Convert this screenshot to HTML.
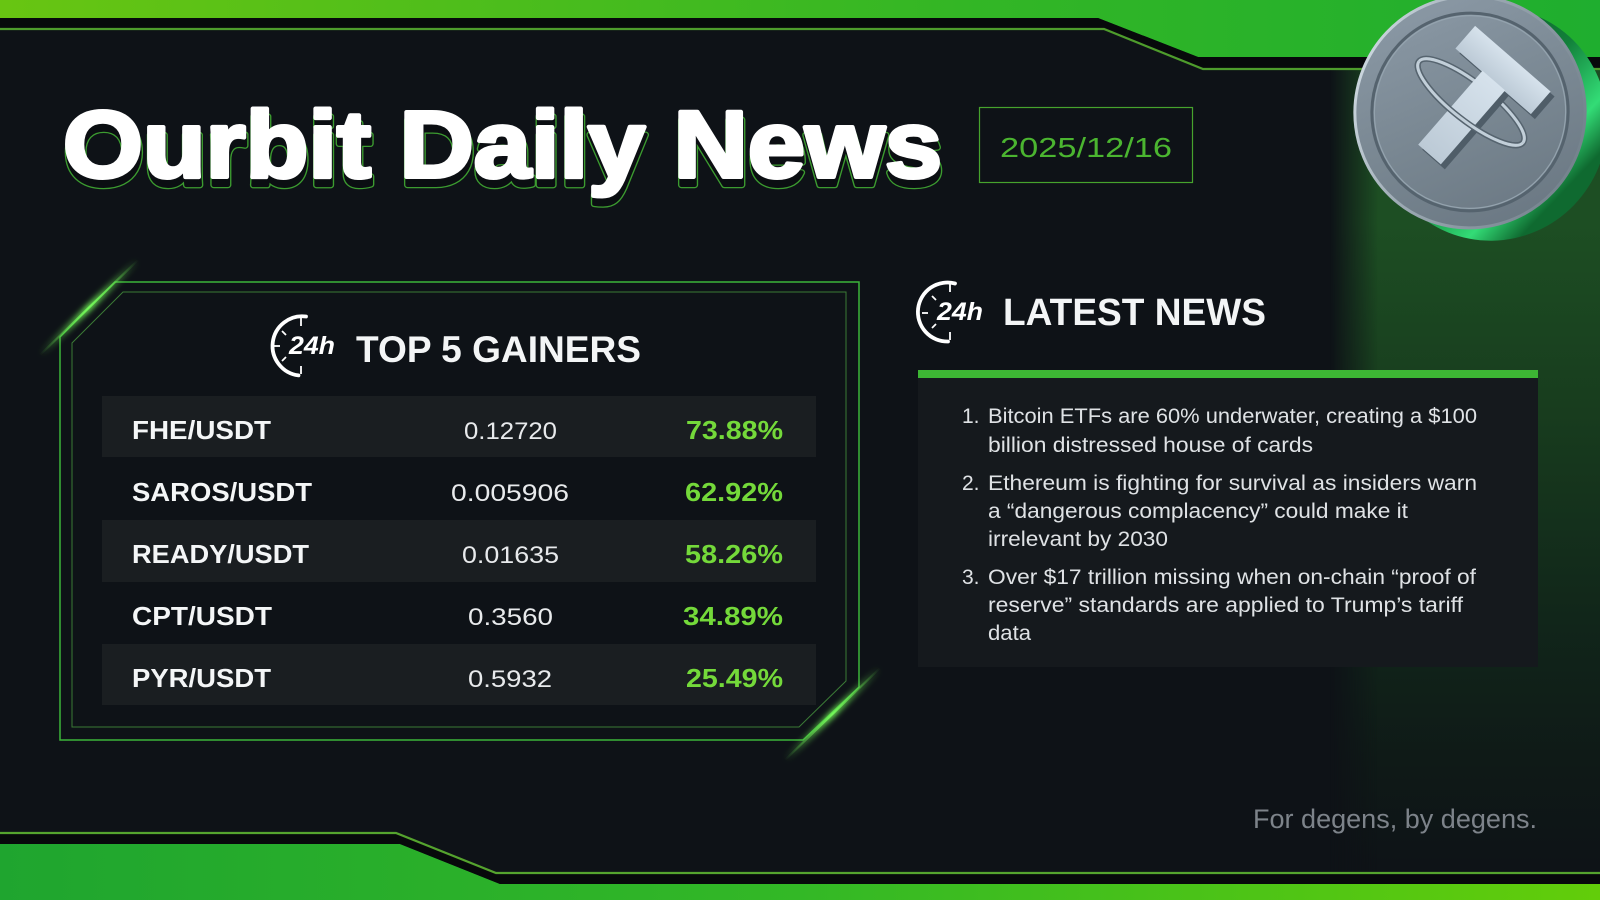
<!DOCTYPE html>
<html><head><meta charset="utf-8"><style>
html,body{margin:0;padding:0;background:#0e1217;}
svg{display:block;}
text{font-family:"Liberation Sans",Arial,sans-serif;}
</style></head><body>
<svg width="1600" height="900" viewBox="0 0 1600 900" xmlns="http://www.w3.org/2000/svg">
<defs>
<linearGradient id="gTop" x1="0" y1="0" x2="1600" y2="0" gradientUnits="userSpaceOnUse">
<stop offset="0" stop-color="#68c512"/><stop offset="0.6" stop-color="#33b625"/><stop offset="1" stop-color="#1fae2f"/></linearGradient>
<linearGradient id="gBot" x1="0" y1="0" x2="1600" y2="0" gradientUnits="userSpaceOnUse">
<stop offset="0" stop-color="#1fa52f"/><stop offset="0.5" stop-color="#33b826"/><stop offset="1" stop-color="#62cd0a"/></linearGradient>
<linearGradient id="gl" x1="0" y1="60" x2="0" y2="880" gradientUnits="userSpaceOnUse">
<stop offset="0" stop-color="#1c4c23"/><stop offset="0.2" stop-color="#1d4e23"/><stop offset="0.42" stop-color="#183d1e"/><stop offset="0.68" stop-color="#11261a"/><stop offset="0.85" stop-color="#0f1a17"/><stop offset="1" stop-color="#0e1217"/></linearGradient>
<linearGradient id="mh" x1="1330" y1="0" x2="1378" y2="0" gradientUnits="userSpaceOnUse">
<stop offset="0" stop-color="#000"/><stop offset="1" stop-color="#fff"/></linearGradient>
<mask id="gm" maskUnits="userSpaceOnUse" x="1280" y="0" width="320" height="900"><rect x="1280" y="0" width="320" height="900" fill="url(#mh)"/></mask>
<filter id="blur3" x="-50%" y="-50%" width="200%" height="200%"><feGaussianBlur stdDeviation="3"/></filter>
<linearGradient id="glow1" x1="40" y1="355" x2="138" y2="260" gradientUnits="userSpaceOnUse">
<stop offset="0" stop-color="#5fd04a" stop-opacity="0"/><stop offset="0.5" stop-color="#74f85a"/><stop offset="1" stop-color="#5fd04a" stop-opacity="0"/></linearGradient>
<linearGradient id="glow2" x1="785" y1="760" x2="880" y2="668" gradientUnits="userSpaceOnUse">
<stop offset="0" stop-color="#5fd04a" stop-opacity="0"/><stop offset="0.5" stop-color="#74f85a"/><stop offset="1" stop-color="#5fd04a" stop-opacity="0"/></linearGradient>
<linearGradient id="coinFace" x1="0" y1="0" x2="1" y2="1">
<stop offset="0" stop-color="#8f9daa"/><stop offset="0.5" stop-color="#7a8893"/><stop offset="1" stop-color="#66737e"/></linearGradient>
<linearGradient id="rim" x1="0" y1="0" x2="1" y2="0">
<stop offset="0" stop-color="#c9d4dc"/><stop offset="0.35" stop-color="#9eabb5"/><stop offset="1" stop-color="#75838e"/></linearGradient>
<linearGradient id="coinEdge" x1="0" y1="0" x2="1" y2="0.4">
<stop offset="0" stop-color="#0a3a1a"/><stop offset="0.6" stop-color="#12803a"/><stop offset="0.85" stop-color="#33dc76"/><stop offset="1" stop-color="#0f6a30"/></linearGradient>
<linearGradient id="tGrad" x1="0" y1="0" x2="0" y2="1">
<stop offset="0" stop-color="#d6e2ec"/><stop offset="1" stop-color="#bccad6"/></linearGradient>
</defs>

<rect width="1600" height="900" fill="#0e1217"/>

<!-- right green glow -->
<rect x="1280" y="60" width="320" height="820" fill="url(#gl)" mask="url(#gm)"/>

<!-- top band -->
<polygon points="0,0 1600,0 1600,57 1198,57 1098,18 0,18" fill="url(#gTop)"/>
<polygon points="0,18 1098,18 1198,57 1600,57 1600,68 1203,68 1104,28 0,28" fill="#07090b"/>
<polyline points="0,29 1104,29 1203,69 1600,69" fill="none" stroke="#4e9c2c" stroke-width="2.2"/>

<!-- bottom band -->
<polygon points="0,844 400,844 500,884 1600,884 1600,900 0,900" fill="url(#gBot)"/>
<polygon points="0,834 396,834 496,874 1600,874 1600,884 500,884 400,844 0,844" fill="#07090b"/>
<polyline points="0,833 396,833 496,873 1600,873" fill="none" stroke="#55a32e" stroke-width="2.2"/>

<!-- title -->
<g font-weight="bold" font-size="95">
<text x="64" y="185" textLength="879" lengthAdjust="spacingAndGlyphs" fill="#3c9c30" stroke="#3c9c30" stroke-width="6.5" stroke-linejoin="round">Ourbit Daily News</text>
<text x="64" y="185" textLength="879" lengthAdjust="spacingAndGlyphs" fill="#0b0e12" stroke="#0b0e12" stroke-width="4" stroke-linejoin="round">Ourbit Daily News</text>
<text x="63" y="177" textLength="879" lengthAdjust="spacingAndGlyphs" fill="#ffffff" stroke="#ffffff" stroke-width="4" stroke-linejoin="round">Ourbit Daily News</text>
</g>

<!-- date -->
<rect x="979.5" y="107.5" width="213" height="75" fill="none" stroke="#46a32d" stroke-width="1.2"/>
<text x="1000" y="157" font-size="28" fill="#4bb530" textLength="172" lengthAdjust="spacingAndGlyphs">2025/12/16</text>

<!-- gainers frame -->
<polygon points="115,282 859,282 859,687 803,740 60,740 60,337" fill="none" stroke="#3cb43a" stroke-width="1.5"/>
<polygon points="123,292 846,292 846,681 799,727 72,727 72,343" fill="none" stroke="#3b7a36" stroke-width="1"/>
<line x1="40" y1="355" x2="138" y2="260" stroke="url(#glow1)" stroke-width="6" filter="url(#blur3)"/>
<line x1="40" y1="355" x2="138" y2="260" stroke="url(#glow1)" stroke-width="2.2"/>
<line x1="785" y1="760" x2="880" y2="668" stroke="url(#glow2)" stroke-width="6" filter="url(#blur3)"/>
<line x1="785" y1="760" x2="880" y2="668" stroke="url(#glow2)" stroke-width="2.2"/>

<!-- gainers icon -->
<g stroke="#ffffff" fill="none">
<path d="M 306 316.5 A 29.5 29.5 0 1 0 298.5 375.4" stroke-width="3.8" stroke-linecap="round"/>
<line x1="301" y1="318" x2="301" y2="326" stroke-width="1.8"/>
<line x1="301" y1="366" x2="301" y2="374" stroke-width="1.8"/>
<line x1="282" y1="331" x2="286" y2="335" stroke-width="1.8"/>
<line x1="282" y1="361" x2="286" y2="357" stroke-width="1.8"/>
<line x1="274" y1="346" x2="280" y2="346" stroke-width="1.8"/>
</g>
<text x="289" y="354" font-size="25" font-weight="bold" font-style="italic" fill="#ffffff" textLength="46" lengthAdjust="spacingAndGlyphs">24h</text>
<text x="356" y="362" font-size="37" font-weight="bold" fill="#f3f5f6" textLength="285" lengthAdjust="spacingAndGlyphs">TOP 5 GAINERS</text>

<!-- rows -->
<rect x="102" y="396" width="714" height="61" fill="#1a1e21"/>
<rect x="102" y="520" width="714" height="62" fill="#1a1e21"/>
<rect x="102" y="644" width="714" height="61" fill="#1a1e21"/>

<g font-size="26" font-weight="bold" fill="#f4f6f7">
<text x="132" y="439" textLength="139" lengthAdjust="spacingAndGlyphs">FHE/USDT</text>
<text x="132" y="501" textLength="180" lengthAdjust="spacingAndGlyphs">SAROS/USDT</text>
<text x="132" y="563" textLength="177" lengthAdjust="spacingAndGlyphs">READY/USDT</text>
<text x="132" y="625" textLength="140" lengthAdjust="spacingAndGlyphs">CPT/USDT</text>
<text x="132" y="687" textLength="139" lengthAdjust="spacingAndGlyphs">PYR/USDT</text>
</g>
<g font-size="24" fill="#e8eaec">
<text x="464" y="439" textLength="93" lengthAdjust="spacingAndGlyphs">0.12720</text>
<text x="451" y="501" textLength="118" lengthAdjust="spacingAndGlyphs">0.005906</text>
<text x="462" y="563" textLength="97" lengthAdjust="spacingAndGlyphs">0.01635</text>
<text x="468" y="625" textLength="85" lengthAdjust="spacingAndGlyphs">0.3560</text>
<text x="468" y="687" textLength="84" lengthAdjust="spacingAndGlyphs">0.5932</text>
</g>
<g font-size="26" font-weight="bold" fill="#74d93a">
<text x="686" y="439" textLength="97" lengthAdjust="spacingAndGlyphs">73.88%</text>
<text x="685" y="501" textLength="98" lengthAdjust="spacingAndGlyphs">62.92%</text>
<text x="685" y="563" textLength="98" lengthAdjust="spacingAndGlyphs">58.26%</text>
<text x="683" y="625" textLength="100" lengthAdjust="spacingAndGlyphs">34.89%</text>
<text x="686" y="687" textLength="97" lengthAdjust="spacingAndGlyphs">25.49%</text>
</g>

<!-- news icon -->
<g stroke="#ffffff" fill="none">
<path d="M 955 283.5 A 29.5 29.5 0 1 0 948 341.5" stroke-width="3.8" stroke-linecap="round"/>
<line x1="950" y1="284" x2="950" y2="292" stroke-width="1.8"/>
<line x1="950" y1="332" x2="950" y2="340" stroke-width="1.8"/>
<line x1="932" y1="296" x2="936" y2="300" stroke-width="1.8"/>
<line x1="932" y1="328" x2="936" y2="324" stroke-width="1.8"/>
<line x1="922" y1="313" x2="928" y2="313" stroke-width="1.8"/>
</g>
<text x="937" y="320" font-size="25" font-weight="bold" font-style="italic" fill="#ffffff" textLength="46" lengthAdjust="spacingAndGlyphs">24h</text>
<text x="1003" y="325" font-size="38" font-weight="bold" fill="#f3f5f6" textLength="263" lengthAdjust="spacingAndGlyphs">LATEST NEWS</text>

<!-- news panel -->
<rect x="918" y="378" width="620" height="289" fill="#15191d"/>
<rect x="918" y="370" width="620" height="8" fill="#3db634"/>
<g font-size="21" fill="#dfe2e5">
<text x="962" y="423">1.</text>
<text x="988" y="423" textLength="489" lengthAdjust="spacingAndGlyphs">Bitcoin ETFs are 60% underwater, creating a $100</text>
<text x="988" y="452" textLength="325" lengthAdjust="spacingAndGlyphs">billion distressed house of cards</text>
<text x="962" y="490">2.</text>
<text x="988" y="490" textLength="489" lengthAdjust="spacingAndGlyphs">Ethereum is fighting for survival as insiders warn</text>
<text x="988" y="518" textLength="420" lengthAdjust="spacingAndGlyphs">a “dangerous complacency” could make it</text>
<text x="988" y="546" textLength="180" lengthAdjust="spacingAndGlyphs">irrelevant by 2030</text>
<text x="962" y="584">3.</text>
<text x="988" y="584" textLength="488" lengthAdjust="spacingAndGlyphs">Over $17 trillion missing when on-chain “proof of</text>
<text x="988" y="612" textLength="475" lengthAdjust="spacingAndGlyphs">reserve” standards are applied to Trump’s tariff</text>
<text x="988" y="640" textLength="43" lengthAdjust="spacingAndGlyphs">data</text>
</g>

<!-- footer -->
<text x="1253" y="828" font-size="27" fill="#7d838a" textLength="284" lengthAdjust="spacingAndGlyphs">For degens, by degens.</text>

<!-- coin -->
<g>
<ellipse cx="1492" cy="124" rx="115" ry="117" transform="rotate(22 1492 124)" fill="url(#coinEdge)"/>
<ellipse cx="1470" cy="112" rx="115" ry="116" transform="rotate(22 1470 112)" fill="url(#coinFace)" stroke="url(#rim)" stroke-width="3"/>
<ellipse cx="1470" cy="112" rx="98" ry="99" transform="rotate(22 1470 112)" fill="none" stroke="#55636e" stroke-width="3"/>
<ellipse cx="1470" cy="112" rx="95.5" ry="96.5" transform="rotate(22 1470 112)" fill="none" stroke="#94a3ae" stroke-width="1.2"/>
<!-- ring back -->
<g transform="rotate(38 1471 102)">
<ellipse cx="1471" cy="102" rx="66" ry="19" fill="none" stroke="#56646f" stroke-width="6"/>
<ellipse cx="1471" cy="102" rx="66" ry="19" fill="none" stroke="#c2cfd9" stroke-width="3"/>
</g>
<!-- T shadow -->
<g transform="translate(1507,75) rotate(41)" fill="#4f5d68">
<rect x="-50" y="-15" width="100" height="30"/>
<rect x="-15" y="14" width="30" height="98"/>
</g>
<g transform="translate(1503,70) rotate(41)" fill="url(#tGrad)">
<rect x="-50" y="-15" width="100" height="30"/>
<rect x="-15" y="14" width="30" height="98"/>
</g>
<!-- ring front part -->
<g transform="rotate(38 1471 102)">
<path d="M 1405 102 A 66 19 0 0 0 1537 102" fill="none" stroke="#56646f" stroke-width="6"/>
<path d="M 1405 102 A 66 19 0 0 0 1537 102" fill="none" stroke="#c2cfd9" stroke-width="3"/>
</g>
</g>
</svg>
</body></html>
